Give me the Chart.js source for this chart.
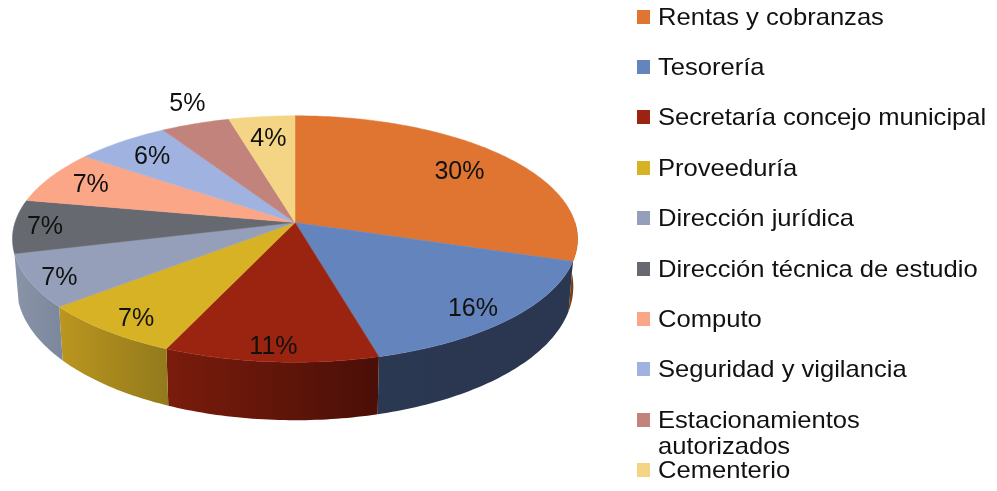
<!DOCTYPE html>
<html lang="es">
<head>
    <meta charset="UTF-8">
    <title>Distribución por dependencia</title>
    <script src="https://cdn.jsdelivr.net/npm/chart.js"></script>
    <style>
        * { box-sizing: border-box; margin: 0; padding: 0; }
        html, body { background: #fff; overflow: hidden; }
        body { width: 997px; height: 491px; position: relative; font-family: "Liberation Sans", Arial, sans-serif; }
        #grafico { position: absolute; left: 0; top: 0; }
        #leyenda { position: absolute; left: 637px; top: 0; list-style: none; }
        #leyenda li { position: absolute; left: 0; width: 340px; padding-left: 21px; font-size: 24px; line-height: 26px; color: #111; }
        #leyenda i { position: absolute; left: 0; top: 6px; width: 13px; height: 14px; }
        /* el texto del original esta algo estirado a lo ancho */
        #leyenda span { display: block; width: 319px; transform: scaleX(1.065); transform-origin: left top; }
    </style>
</head>
<body>
    <canvas id="grafico" width="997" height="491"></canvas>
    <ul id="leyenda"></ul>

    <script>
        const categorias = ["Rentas y cobranzas", "Tesorería", "Secretaría concejo municipal", "Proveeduría",
            "Dirección jurídica", "Dirección técnica de estudio", "Computo", "Seguridad y vigilancia",
            "Estacionamientos autorizados", "Cementerio"];
        const valores = [30, 15.8, 10.8, 7.4, 7, 7, 7, 6.2, 4.5, 4.3];

        const colores = ["#df7530", "#6484bd", "#9a2410", "#d7b224", "#959fba", "#666a70", "#fba787", "#a0b3e0", "#c3837d", "#f4d585"];
        // lateral del pastel: color izquierdo y derecho, solo las porciones con pared visible
        const lateral = [["#7a3f10", "#5a2c08"], ["#2b3852", "#2b3650"], ["#7a1c0c", "#4a0f07"], ["#bb961f", "#937a1c"], ["#8a94a9", "#7e889d"]];
        // distancia de cada etiqueta al centro, en radios, y giro en radianes
        const radioEtiqueta = [0.77, 0.87, 0.9, 0.88, 0.9, 0.89, 0.83, 0.81, 1.22, 0.78];
        const giroEtiqueta = [0, 0.03, 0, -0.025, -0.02, 0, 0, 0, 0.04, 0];

        // perspectiva del disco
        const ANCHO = 1.4, ALTO = 0.605, FUGA = -0.134;

        function proyectar(arc, angulo, r) {
            const u = Math.cos(angulo) * r, v = Math.sin(angulo) * r;
            const d = 1 + FUGA * v;
            return {
                x: arc.x + arc.outerRadius * ANCHO * u / d,
                y: arc.y + arc.outerRadius * ALTO * v / d,
                v: v
            };
        }

        function puntosArco(arc, desde, hasta) {
            const n = Math.max(2, Math.ceil((hasta - desde) * 60));
            const pts = [];
            for (let i = 0; i <= n; i++) {
                pts.push(proyectar(arc, desde + (hasta - desde) * i / n, 1));
            }
            return pts;
        }

        function trazar(ctx, pts) {
            ctx.beginPath();
            pts.forEach((p, i) => i ? ctx.lineTo(p.x, p.y) : ctx.moveTo(p.x, p.y));
            ctx.closePath();
        }

        const pastel3d = {
            id: 'pastel3d',
            beforeDatasetsDraw(chart) {
                const ctx = chart.ctx;
                const arcos = chart.getDatasetMeta(0).data;

                // paredes, solo la mitad cercana
                arcos.forEach((arc, i) => {
                    if (!lateral[i]) return;
                    const desde = Math.max(arc.startAngle, 0), hasta = Math.min(arc.endAngle, Math.PI);
                    if (hasta <= desde) return;
                    const arriba = puntosArco(arc, desde, hasta);
                    const abajo = arriba.map(p => ({
                        x: arc.x + (p.x - arc.x) * 0.985,
                        y: p.y + 46 + 12 * p.v
                    })).reverse();
                    const xs = arriba.map(p => p.x);
                    const g = ctx.createLinearGradient(Math.min(...xs), 0, Math.max(...xs), 0);
                    g.addColorStop(0, lateral[i][0]);
                    g.addColorStop(1, lateral[i][1]);
                    trazar(ctx, arriba.concat(abajo));
                    ctx.fillStyle = g;
                    ctx.fill();
                });

                // cara superior
                arcos.forEach((arc, i) => {
                    const pts = puntosArco(arc, arc.startAngle, arc.endAngle);
                    pts.unshift(proyectar(arc, 0, 0));
                    trazar(ctx, pts);
                    ctx.fillStyle = colores[i];
                    ctx.strokeStyle = colores[i];
                    ctx.lineWidth = 0.5;
                    ctx.fill();
                    ctx.stroke();
                });

                // porcentajes
                ctx.fillStyle = '#111';
                ctx.font = '25px "Liberation Sans", Arial, sans-serif';
                ctx.textAlign = 'center';
                ctx.textBaseline = 'middle';
                arcos.forEach((arc, i) => {
                    const medio = (arc.startAngle + arc.endAngle) / 2 + giroEtiqueta[i];
                    const p = proyectar(arc, medio, radioEtiqueta[i]);
                    ctx.fillText(Math.round(valores[i]) + '%', p.x, p.y + 1);
                });
                return false;
            }
        };

        new Chart(document.getElementById('grafico'), {
            type: 'pie',
            data: {
                labels: categorias,
                datasets: [{ data: valores, backgroundColor: colores, borderWidth: 0 }]
            },
            options: {
                responsive: false,
                animation: false,
                layout: { padding: { left: 95, right: 502, top: 22.5, bottom: 68.5 } },
                plugins: { legend: { display: false }, tooltip: { enabled: false } }
            },
            plugins: [pastel3d]
        });

        const leyenda = document.getElementById('leyenda');
        categorias.forEach((nombre, i) => {
            const li = document.createElement('li');
            li.style.top = (3.5 + i * 50.4) + 'px';
            li.innerHTML = '<i style="background:' + colores[i] + '"></i><span>' + nombre + '</span>';
            leyenda.appendChild(li);
        });
    </script>
</body>
</html>
